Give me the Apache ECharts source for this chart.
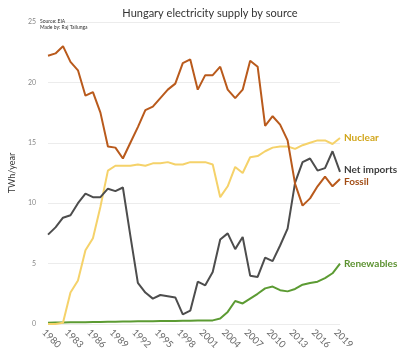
<!DOCTYPE html>
<html>
<head>
<meta charset="utf-8">
<script src="https://cdn.jsdelivr.net/npm/echarts@6/dist/echarts.min.js"></script>
<style>html,body{margin:0;padding:0;background:#fff}#c{width:400px;height:358px}</style>
</head>
<body>
<div id="c"></div>
<script>
var years = [];
for (var y = 1980; y <= 2019; y++) years.push(String(y));

var fossil = [22.2,22.4,23.0,21.7,21.0,18.9,19.2,17.5,14.7,14.6,13.7,15.0,16.3,17.7,18.0,18.7,19.4,19.9,21.6,21.9,19.4,20.6,20.6,21.3,19.4,18.7,19.4,21.8,21.3,16.4,17.2,16.5,15.2,11.6,9.8,10.4,11.4,12.2,11.4,12.0];
var netImports = [7.4,8.0,8.8,9.0,10.0,10.8,10.5,10.5,11.2,11.0,11.3,7.3,3.4,2.6,2.1,2.4,2.3,2.2,0.8,1.1,3.5,3.2,4.3,7.0,7.5,6.2,7.2,4.0,3.9,5.5,5.2,6.5,7.9,11.7,13.4,13.7,12.7,12.9,14.3,12.6];
var nuclear = [0,0,0.1,2.6,3.6,6.1,7.1,9.7,12.7,13.1,13.1,13.1,13.2,13.1,13.3,13.3,13.4,13.2,13.2,13.4,13.4,13.4,13.2,10.5,11.4,13.0,12.5,13.8,13.9,14.3,14.6,14.7,14.7,14.5,14.8,15.0,15.2,15.2,14.9,15.4];
var renewables = [0.1,0.12,0.13,0.14,0.15,0.15,0.16,0.17,0.18,0.19,0.2,0.21,0.22,0.22,0.23,0.24,0.25,0.25,0.26,0.27,0.28,0.29,0.3,0.45,1.0,1.9,1.7,2.1,2.5,2.95,3.1,2.8,2.7,2.9,3.25,3.4,3.5,3.8,4.2,5.0];

var seriesNames = ['Nuclear','Net imports','Fossil','Renewables'];
var colors = ['#f5d26a','#4d4d4d','#b95a1c','#5c9b33'];
var labelColors = ['#d1a51a','#3d3d3d','#a24d15','#5c9231'];
var dataSets = [nuclear, netImports, fossil, renewables];

var chart = echarts.init(document.getElementById('c'), null, {renderer:'canvas'});
var series = dataSets.map(function(d, i){
  return {
    name: seriesNames[i], type:'line', data:d, showSymbol:false, symbol:'none',
    lineStyle:{color:colors[i], width:2}, itemStyle:{color:colors[i]},
    endLabel:{show:true, formatter:seriesNames[i], color:labelColors[i], fontFamily:'Lato', fontWeight:'bold', fontSize:10, distance:4, offset: i===1?[0,-2]:(i===2?[0,3]:[0,0])},
    z: [3,4,5,2][i]
  };
});

chart.setOption({
  animation:false,
  backgroundColor:'#fff',
  title:[{text:'Hungary electricity supply by source', left:205, textAlign:'center', top:3, textStyle:{fontFamily:'Lato', fontSize:11, fontWeight:'normal', color:'#333'}},
         {text:'Source: EIA\nMade by: Raj Tailunga', left:35, top:14, textStyle:{fontFamily:'Lato', fontSize:5, lineHeight:5.5, fontWeight:'normal', color:'#333'}}],
  grid:{left:37, right:60, top:22, bottom:34},
  xAxis:{type:'category', data:years, boundaryGap:false,
    axisLine:{show:false}, axisTick:{show:false},
    axisLabel:{interval:2, rotate:-45, fontFamily:'Lato', fontSize:9.5, color:'#666', margin:11, align:'center', verticalAlign:'middle', padding:[0,0,0,10]},
    splitLine:{show:false}},
  yAxis:{type:'value', min:0, max:25, interval:5, name:'TWh/year', nameLocation:'middle', nameGap:26, nameRotate:90,
    nameTextStyle:{fontFamily:'Lato', fontSize:9, color:'#333'},
    axisLine:{show:false}, axisTick:{show:false},
    axisLabel:{fontFamily:'Lato', fontSize:7, color:'#888', margin:12},
    splitLine:{lineStyle:{color:'#ececec', width:1}}},
  series:series
});
</script>
</body>
</html>
